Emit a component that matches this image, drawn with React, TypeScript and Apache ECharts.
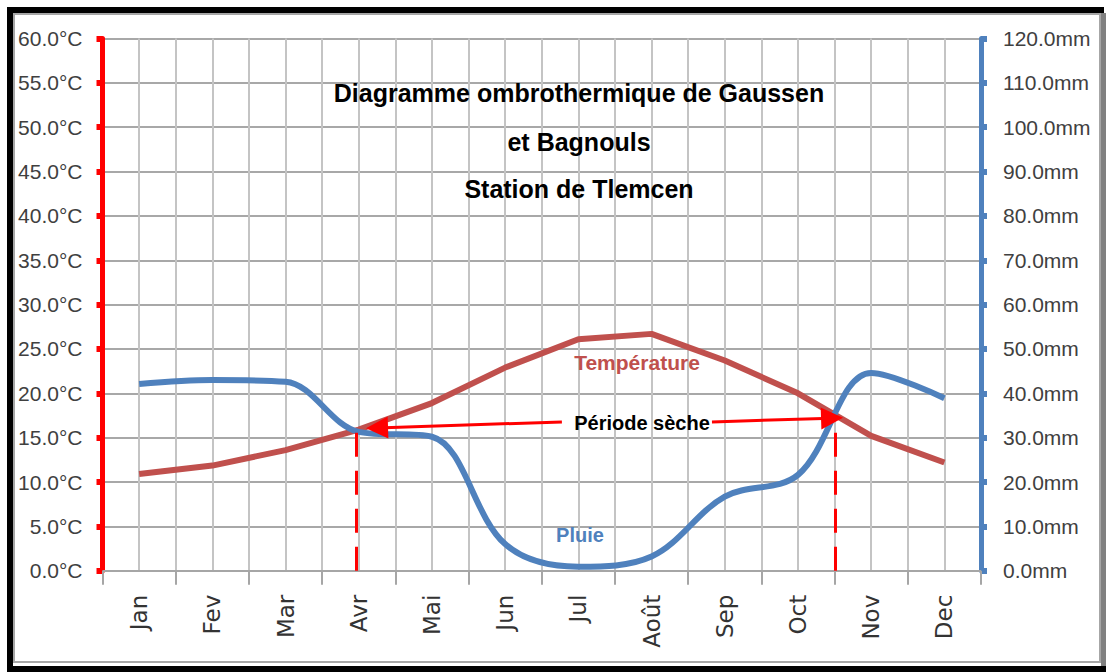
import React, { useEffect, useRef } from "react";
import * as echarts from "echarts";

const months = ["Jan", "Fev", "Mar", "Avr", "Mai", "Jun", "Jul", "Août", "Sep", "Oct", "Nov", "Dec"];
const temperature = [10.9, 11.85, 13.6, 15.9, 18.9, 22.9, 26.1, 26.7, 23.7, 20.0, 15.2, 12.2];
const rainfall = [42.1, 43.0, 42.6, 31.3, 30.2, 6.0, 0.9, 3.2, 16.7, 21.6, 44.6, 38.9];
const tempAxis = { min: 0, max: 60, interval: 5 };
const rainAxis = { min: 0, max: 120, interval: 10 };
const titleLines = ["Diagramme ombrothermique de Gaussen", "et Bagnouls", "Station de Tlemcen"];
// dry period bounds in half-month units (category i centre = 2i + 1), temperature at crossings
const dryStart = [6.93, 15.6];
const dryEnd = [20.03, 17.55];
const arrowLeft = [[12.55, 16.77], [7.5, 16.1]];
const arrowRight = [[16.65, 16.77], [19.93, 17.2]];

const sans = '"Liberation Sans", Arial, sans-serif';

export default function App() {
  const ref = useRef<HTMLDivElement>(null);
  useEffect(() => {
    if (!ref.current) return;
    const chart = echarts.init(ref.current, null, { renderer: "svg" });
    const dashed = { color: "#ff0000", width: 3, type: [24, 14] as any };
    chart.setOption({
      animation: false,
      backgroundColor: "#ffffff",
      grid: { left: 102.5, right: 129, top: 38.5, bottom: 101.3 },
      xAxis: [
        {
          type: "category",
          data: months,
          boundaryGap: true,
          axisLine: { lineStyle: { color: "#a6a6a6", width: 2 } },
          axisTick: { show: true, length: 14, lineStyle: { color: "#a6a6a6", width: 2 } },
          axisLabel: { rotate: 90, margin: 24, fontFamily: '"DejaVu Sans", sans-serif', fontSize: 23, color: "#333333" },
          splitLine: { show: false },
        },
        {
          type: "value",
          position: "top",
          min: 0,
          max: 24,
          interval: 1,
          axisLine: { show: false },
          axisTick: { show: false },
          axisLabel: { show: false },
          splitLine: { show: true, lineStyle: { color: "#c4c4c4", width: 2 } },
        },
      ],
      yAxis: [
        {
          type: "value",
          position: "left",
          ...tempAxis,
          axisLine: { show: true, lineStyle: { color: "#ff0000", width: 5 } },
          axisTick: { show: true, length: 6, lineStyle: { color: "#ff0000", width: 6 } },
          axisLabel: {
            formatter: (v: number) => v.toFixed(1) + "°C",
            margin: 20,
            fontFamily: sans,
            fontSize: 21,
            color: "#404040",
          },
          splitLine: { show: true, lineStyle: { color: "#a8a8a8", width: 2 } },
        },
        {
          type: "value",
          position: "right",
          ...rainAxis,
          axisLine: { show: true, lineStyle: { color: "#4F81BD", width: 5 } },
          axisTick: { show: true, length: 6, lineStyle: { color: "#4F81BD", width: 6 } },
          axisLabel: {
            formatter: (v: number) => v.toFixed(1) + "mm",
            margin: 22,
            fontFamily: sans,
            fontSize: 21,
            color: "#404040",
          },
          splitLine: { show: false },
        },
      ],
      series: [
        {
          name: "Température",
          type: "line",
          xAxisIndex: 0,
          yAxisIndex: 0,
          data: temperature,
          symbol: "none",
          smooth: false,
          lineStyle: { color: "#C0504D", width: 6 },
          z: 3,
        },
        {
          name: "Pluie",
          type: "line",
          xAxisIndex: 0,
          yAxisIndex: 1,
          data: rainfall,
          symbol: "none",
          smooth: 0.35,
          lineStyle: { color: "#4F81BD", width: 6 },
          z: 3,
        },
        {
          type: "line",
          xAxisIndex: 1,
          yAxisIndex: 0,
          data: [],
          z: 4,
          markLine: {
            silent: true,
            symbol: ["none", "none"],
            label: { show: false },
            lineStyle: dashed,
            data: [
              [{ coord: [dryStart[0], 0] }, { coord: [dryStart[0], dryStart[1]] }],
              [{ coord: [dryEnd[0], 0] }, { coord: [dryEnd[0], dryEnd[1]] }],
            ],
          },
        },
        {
          type: "line",
          xAxisIndex: 1,
          yAxisIndex: 0,
          data: [],
          z: 5,
          markLine: {
            silent: true,
            symbol: ["none", "triangle"],
            symbolSize: 22,
            label: { show: false },
            lineStyle: { color: "#ff0000", width: 3, type: "solid" },
            itemStyle: { color: "#ff0000" },
            data: [
              [{ coord: arrowLeft[0] }, { coord: arrowLeft[1] }],
              [{ coord: arrowRight[0] }, { coord: arrowRight[1] }],
            ],
          },
        },
      ],
      graphic: [
        { type: "rect", shape: { x: 14, y: 14, width: 1086, height: 648 }, style: { fill: "none", stroke: "#a6a6a6", lineWidth: 2 }, silent: true },
        { type: "rect", shape: { x: 7, y: 7, width: 6, height: 665 }, style: { fill: "#000" }, silent: true },
        { type: "rect", shape: { x: 7, y: 7, width: 1097, height: 6 }, style: { fill: "#000" }, silent: true },
        { type: "rect", shape: { x: 7, y: 666, width: 1099, height: 6 }, style: { fill: "#000" }, silent: true },
        { type: "rect", shape: { x: 1101, y: 13, width: 5, height: 653 }, style: { fill: "#808080" }, silent: true },
        ...titleLines.map((t, i) => ({
          type: "text",
          x: 579,
          y: [93, 142, 189][i],
          style: { text: t, fill: "#000", font: `bold 25px ${sans}`, textAlign: "center", textVerticalAlign: "middle" },
          z: 10,
        })),
        { type: "text", x: 637, y: 362, style: { text: "Température", fill: "#C0504D", font: `bold 21px ${sans}`, textAlign: "center", textVerticalAlign: "middle" }, z: 10 },
        { type: "text", x: 580, y: 535, style: { text: "Pluie", fill: "#4F81BD", font: `bold 20px ${sans}`, textAlign: "center", textVerticalAlign: "middle" }, z: 10 },
        { type: "text", x: 642, y: 423, style: { text: "Période sèche", fill: "#000", font: `bold 20px ${sans}`, textAlign: "center", textVerticalAlign: "middle" }, z: 10 },
      ],
    });
    return () => chart.dispose();
  }, []);
  return <div ref={ref} style={{ position: "fixed", left: 0, top: 0, width: 1110, height: 672 }} />;
}
